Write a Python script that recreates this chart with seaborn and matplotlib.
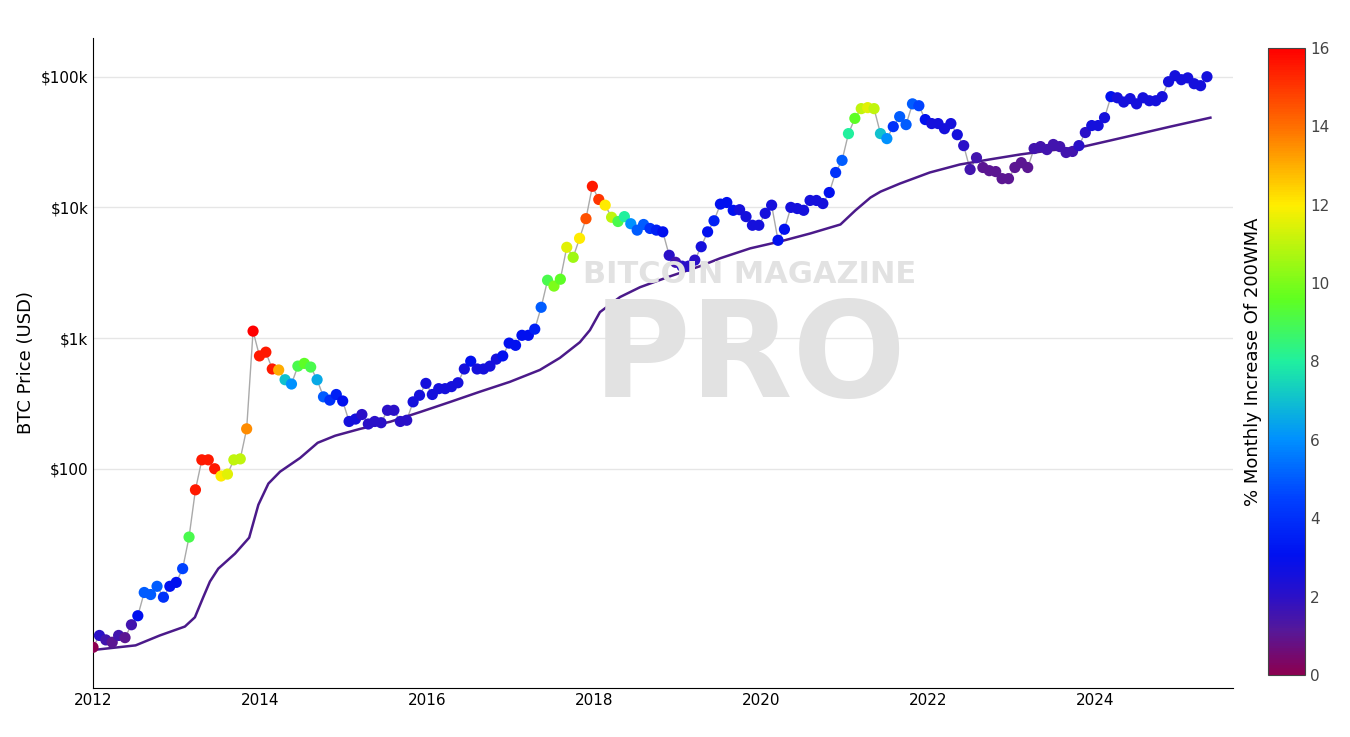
import numpy as np
import pandas as pd
import matplotlib
matplotlib.use("Agg")
import matplotlib.pyplot as plt
from matplotlib.colors import LinearSegmentedColormap, Normalize
import seaborn as sns

# Monthly (28-day) BTC price samples
prices = [4.3,5.3,4.9,4.7,5.3,5.1,6.4,7.5,11.3,10.9,12.6,10.4,12.6,13.5,17.2,30,69,117,117,100,88,91,117,119,202,
          1130,730,780,580,570,480,445,610,640,600,480,355,335,370,330,230,240,260,220,230,225,280,280,230,235,
          325,365,450,370,410,410,425,455,580,665,580,580,610,690,730,915,880,1050,1050,1170,
          1720,2770,2500,2820,4950,4150,5800,8200,14500,11500,10400,8400,7800,8500,7500,6700,7400,6900,6700,6500,
          4300,3800,3550,3550,3950,5000,6500,7900,10600,10900,9500,9600,8500,7300,7300,9000,10400,5600,6800,10000,
          9800,9500,11300,11300,10700,13000,18500,22900,36700,48000,57000,58000,57000,36700,33600,41500,49500,43000,62000,60000,
          47000,43800,43800,40000,43800,36000,29700,19500,24000,20200,19100,18800,16600,16600,20200,22000,20200,28200,29200,27700,
          30300,29200,26300,26800,29700,37400,42300,42300,48600,70400,69000,64000,68000,62000,69000,65500,65500,70400,91600,101800,
          94900,98000,88400,85400,100000]
# % monthly increase of 200WMA at each sample
pct = [0,2,1.5,1,1.5,1,1.5,3,5,5,5,4,3,3,4.5,9,15.5,15.5,15.5,15.5,12,11.5,11,11,13.5,
       16,15.5,15.5,15.5,13,7,6,9,9.5,9,6.5,5,4,3.5,3,2.5,2.5,2,2,2,2,2,2,2,2,
       2.5,2.5,2.5,2.5,2.5,2.5,2.5,2.5,2.5,3,2.5,2.5,2.5,2.5,3,3,3,3,3,3.5,
       5,9,10,9.5,11.5,10.5,12,14.5,15.5,15,12,11,9,8,6,5,5,4,3.5,3,
       2,1.5,2,2,2,2.5,3,3.5,3,3,3,2.5,2.5,2.5,2.5,2.5,2.5,3,3,2.5,
       2.5,2.5,2.5,2.5,2.5,3,4,5,8,9.5,11,11.5,11,7,6,4,5,5,5,4.5,
       3,2.5,2.5,2.5,2.5,2.5,2,1.5,1.5,1,1,1,1,1,1,1,1,1.5,1.5,1.5,
       1.5,1.5,1.5,1.5,2,2,2.5,2.5,2.5,3,2.5,2.5,2.5,2.5,2.5,2.5,2.5,2.5,2.5,2.5,
       2.5,2.5,2.5,2.5,2.5]
n = min(len(prices), len(pct))
dates = pd.date_range("2012-01-01", periods=n, freq="28D")
df = pd.DataFrame({"date": dates, "price": prices[:n], "pct": pct[:n]})

# 200 week moving average
wma_years = [2012.0,2012.51,2012.8,2013.1,2013.22,2013.32,2013.40,2013.5,2013.7,2013.87,2013.98,2014.1,2014.24,2014.48,
             2014.69,2014.9,2015.2,2015.56,2015.92,2016.28,2016.63,2016.99,2017.35,2017.59,2017.83,2017.95,2018.07,
             2018.31,2018.55,2018.91,2019.27,2019.51,2019.87,2020.23,2020.59,2020.95,2021.13,2021.31,2021.43,2021.66,
             2022.02,2022.38,2022.74,2023.1,2023.46,2023.82,2024.18,2024.54,2024.9,2025.38]
wma_vals = [4.1,4.45,5.3,6.2,7.3,10.4,13.7,17.2,22.4,29.7,53,77,95,121,158,179,202,229,272,325,388,462,570,705,930,
            1150,1580,2060,2450,2970,3550,4080,4860,5490,6320,7400,9500,11900,13200,15200,18500,21300,23300,25400,
            27300,28800,32500,36700,41500,48600]

def yr2date(y):
    return pd.Timestamp("2012-01-01") + pd.to_timedelta((y - 2012) * 365.25, unit="D")
wma = pd.DataFrame({"date": [yr2date(y) for y in wma_years], "wma": wma_vals})

cmap = LinearSegmentedColormap.from_list("btc", [
    (0.0, "#8b0050"), (0.07, "#55189a"), (0.125, "#2a10c8"), (0.19, "#0010f0"),
    (0.28, "#0040ff"), (0.375, "#0090ff"), (0.5, "#20f0a0"), (0.6, "#60ff20"),
    (0.75, "#ffee00"), (0.875, "#ff7000"), (1.0, "#ff0000")])
norm = Normalize(0, 16)

fig = plt.figure(figsize=(13.5, 7.37), dpi=100)
ax = fig.add_axes([0.0689, 0.0665, 0.8444, 0.882])
cax = fig.add_axes([0.9393, 0.0841, 0.0274, 0.851])

fig.text(0.555, 0.627, "BITCOIN MAGAZINE", fontsize=22, fontweight="bold", color="#e2e2e2",
         ha="center", va="center", zorder=0)
fig.text(0.555, 0.512, "PRO", fontsize=96, fontweight="bold", color="#e2e2e2",
         ha="center", va="center", zorder=0)
ax.patch.set_alpha(0)

sns.lineplot(data=df, x="date", y="price", ax=ax, color="#aaaaaa", lw=1, zorder=2)
sns.lineplot(data=wma, x="date", y="wma", ax=ax, color="#4b1a8a", lw=1.8, zorder=3)
ax.scatter(df["date"], df["price"], c=df["pct"], cmap=cmap, norm=norm, s=65, linewidths=0, zorder=4)

ax.set_yscale("log")
ax.set_ylim(2.1, 198000)
ax.set_xlim(pd.Timestamp("2012-01-01"), yr2date(2025.65))
ax.set_yticks([100, 1000, 10000, 100000])
ax.set_yticklabels(["$100", "$1k", "$10k", "$100k"])
ax.yaxis.set_minor_locator(matplotlib.ticker.NullLocator())
xt = [pd.Timestamp(f"{y}-01-01") for y in range(2012, 2026, 2)]
ax.set_xticks(xt)
ax.set_xticklabels([str(y) for y in range(2012, 2026, 2)])
ax.grid(axis="y", color="#e6e6e6", lw=1)
ax.set_axisbelow(True)
for s in ["top", "right"]:
    ax.spines[s].set_visible(False)
ax.tick_params(labelsize=11, length=0)
ax.set_xlabel("")
ax.set_ylabel("BTC Price (USD)", fontsize=13)

sm = matplotlib.cm.ScalarMappable(norm=norm, cmap=cmap)
cb = fig.colorbar(sm, cax=cax)
cb.set_ticks(range(0, 17, 2))
cb.ax.tick_params(labelsize=11, length=0, colors="#444444")
cb.outline.set_edgecolor("#444444")
cax.yaxis.set_ticks_position("right")
cb.set_label("% Monthly Increase Of 200WMA", fontsize=13)
cax.yaxis.set_label_position("left")

fig.savefig("out.png", dpi=100)
